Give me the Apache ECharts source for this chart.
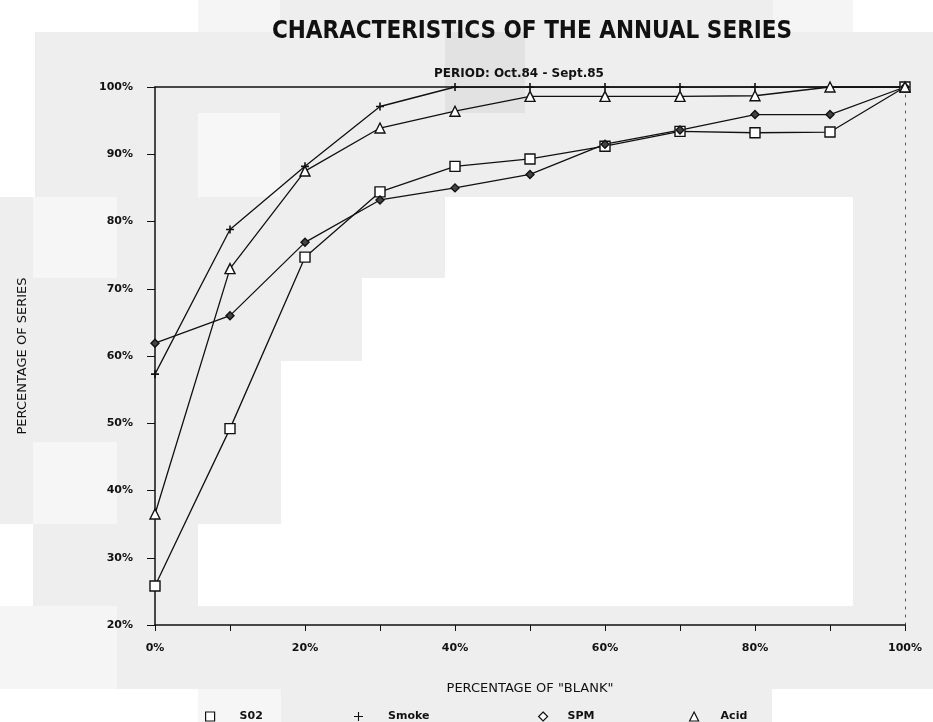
<!DOCTYPE html>
<html>
<head>
<meta charset="utf-8">
<script src="https://cdn.jsdelivr.net/npm/echarts@6/dist/echarts.min.js"></script>
<style>
  html, body { margin: 0; padding: 0; background: #ffffff; }
  #chart { width: 933px; height: 722px; }
</style>
</head>
<body>
<div id="chart"></div>
<script>
// Percentage of "blank" (x) against cumulative percentage of series (y)
const blankPct = [0, 10, 20, 30, 40, 50, 60, 70, 80, 90, 100];
const so2   = [25.8, 49.2, 74.7, 84.4, 88.2, 89.3, 91.2, 93.4, 93.2, 93.3, 100];
const smoke = [57.3, 78.8, 88.2, 97.1, 100, 100, 100, 100, 100, 100, 100];
const spm   = [61.9, 66.0, 76.9, 83.2, 85.0, 87.0, 91.5, 93.6, 95.9, 95.9, 100];
const acid  = [36.5, 73.0, 87.5, 93.9, 96.4, 98.6, 98.6, 98.6, 98.7, 100, 100];
const seriesNames = ['S02', 'Smoke', 'SPM', 'Acid'];
const yTicks = [20, 30, 40, 50, 60, 70, 80, 90, 100];

const pairs = (vals) => blankPct.map((x, i) => [x, vals[i]]);

const FONT = 'DejaVu Sans, Liberation Sans, sans-serif';
const PLUS = 'path://M4,0H6V4H10V6H6V10H4V6H0V4H4Z';
const THIN_PLUS = 'path://M4.4,0H5.6V4.4H10V5.6H5.6V10H4.4V5.6H0V4.4H4.4Z';

// Grey photocopy shading of the sheet: [x, y, w, h, colour]
const shade = [
  [198, 0, 82, 32, '#f5f5f5'], [280, 0, 493, 32, '#eeeeee'], [773, 0, 80, 32, '#f5f5f5'],
  [35, 32, 898, 165, '#eeeeee'], [445, 32, 80, 81, '#e2e2e2'], [198, 113, 82, 84, '#f7f7f7'],
  [0, 197, 933, 409, '#eeeeee'], [33, 197, 84, 81, '#f6f6f6'], [33, 442, 84, 82, '#f6f6f6'],
  [0, 524, 33, 82, '#ffffff'],
  [445, 197, 408, 409, '#ffffff'], [362, 278, 83, 328, '#ffffff'],
  [281, 361, 81, 245, '#ffffff'], [198, 524, 83, 82, '#ffffff'],
  [0, 606, 933, 83, '#eeeeee'], [0, 606, 117, 83, '#f5f5f5'],
  [198, 689, 83, 33, '#f6f6f6'], [281, 689, 491, 33, '#eeeeee']
];

const chart = echarts.init(document.getElementById('chart'), null, { renderer: 'canvas' });

const lineBase = {
  type: 'line',
  xAxisIndex: 0,
  yAxisIndex: 0,
  showSymbol: true,
  lineStyle: { color: '#111', width: 1.3 },
  emphasis: { disabled: true },
  animation: false,
  z: 5
};

const legendBase = (name, left, icon, pad, style) => ({
  data: [name],
  left: left,
  top: 706,
  icon: icon,
  itemWidth: 9,
  itemHeight: 9,
  itemStyle: style,
  selectedMode: false,
  textStyle: { fontFamily: FONT, fontSize: 11, fontWeight: 'bold', color: '#111', padding: [0, 0, 0, pad] }
});

chart.setOption({
  backgroundColor: '#ffffff',
  animation: false,
  graphic: shade.map(([x, y, w, h, c]) => ({
    type: 'rect', silent: true, z: -100,
    shape: { x: x, y: y, width: w, height: h },
    style: { fill: c }
  })),
  title: [
    {
      text: 'CHARACTERISTICS OF THE ANNUAL SERIES',
      left: 527, top: 15, textAlign: 'center',
      textStyle: { fontFamily: 'DejaVu Sans Condensed, DejaVu Sans, sans-serif', fontSize: 24, fontWeight: 'bold', color: '#111' }
    },
    {
      text: 'PERIOD: Oct.84 - Sept.85',
      left: 514, top: 63, textAlign: 'center',
      textStyle: { fontFamily: FONT, fontSize: 12, fontWeight: 'bold', color: '#111' }
    }
  ],
  legend: [
    legendBase('S02', 200, 'rect', 20, { color: '#fff', borderColor: '#111', borderWidth: 1.2 }),
    legendBase('Smoke', 349, THIN_PLUS, 20, { color: '#111', borderWidth: 0 }),
    legendBase('SPM', 533, 'diamond', 15, { color: '#fff', borderColor: '#111', borderWidth: 1.2 }),
    legendBase('Acid', 684, 'triangle', 17, { color: '#fff', borderColor: '#111', borderWidth: 1.2 })
  ],
  grid: { left: 155, right: 28, top: 87, bottom: 97, containLabel: false },
  xAxis: [
    {
      type: 'value', min: 0, max: 100, interval: 10,
      name: 'PERCENTAGE OF "BLANK"', nameLocation: 'middle', nameGap: 57,
      nameTextStyle: { fontFamily: FONT, fontSize: 13, color: '#111' },
      axisLine: { show: true, lineStyle: { color: '#111', width: 1.5 } },
      axisTick: { show: true, inside: false, length: 6, lineStyle: { color: '#111', width: 1 } },
      axisLabel: {
        margin: 18, fontFamily: FONT, fontSize: 11, fontWeight: 'bold', color: '#111',
        formatter: (v) => (v % 20 === 0 ? v + '%' : '')
      },
      splitLine: { show: false }
    },
    {
      type: 'value', min: 0, max: 100, position: 'top',
      axisLine: { show: true, onZero: false, lineStyle: { color: '#111', width: 1.5 } },
      axisTick: { show: false }, axisLabel: { show: false }, splitLine: { show: false }
    }
  ],
  yAxis: [
    {
      type: 'value', min: 20, max: 100, interval: 10,
      name: 'PERCENTAGE OF SERIES', nameLocation: 'middle', nameGap: 126, nameRotate: 90,
      nameTextStyle: { fontFamily: FONT, fontSize: 13, color: '#111' },
      axisLine: { show: true, lineStyle: { color: '#111', width: 1.5 } },
      axisTick: { show: true, inside: false, length: 8, lineStyle: { color: '#111', width: 1 } },
      axisLabel: {
        margin: 22, fontFamily: FONT, fontSize: 11, fontWeight: 'bold', color: '#111',
        formatter: (v) => (yTicks.includes(v) ? v + '%' : '')
      },
      splitLine: { show: false }
    },
    {
      type: 'value', min: 20, max: 100, position: 'right',
      axisLine: { show: true, onZero: false, lineStyle: { color: '#555', width: 1, type: [2, 6] } },
      axisTick: { show: false }, axisLabel: { show: false }, splitLine: { show: false }
    }
  ],
  series: [
    Object.assign({}, lineBase, {
      name: seriesNames[0], data: pairs(so2), symbol: 'rect', symbolSize: 10,
      itemStyle: { color: '#fff', borderColor: '#111', borderWidth: 1.4 }
    }),
    Object.assign({}, lineBase, {
      name: seriesNames[1], data: pairs(smoke), symbol: PLUS, symbolSize: 8,
      itemStyle: { color: '#111', borderWidth: 0 }
    }),
    Object.assign({}, lineBase, {
      name: seriesNames[2], data: pairs(spm), symbol: 'diamond', symbolSize: 8,
      itemStyle: { color: '#444', borderColor: '#111', borderWidth: 1.4 }
    }),
    Object.assign({}, lineBase, {
      name: seriesNames[3], data: pairs(acid), symbol: 'triangle', symbolSize: 10,
      itemStyle: { color: '#fff', borderColor: '#111', borderWidth: 1.4 }
    })
  ]
});
</script>
</body>
</html>
